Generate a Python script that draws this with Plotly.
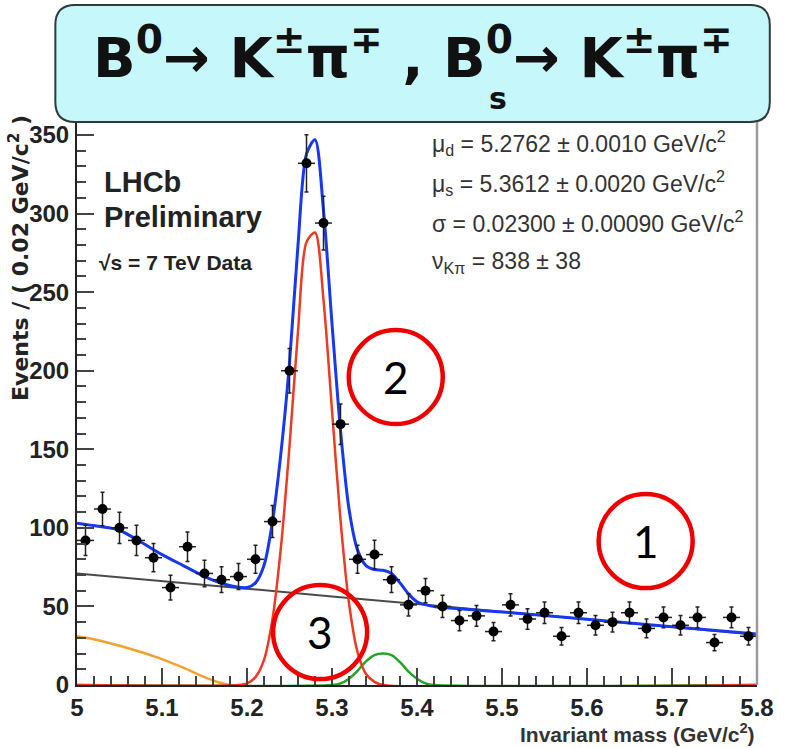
import plotly.graph_objects as go

# ---------------- data ----------------
bin_centers = [5.01, 5.03, 5.05, 5.07, 5.09, 5.11, 5.13, 5.15, 5.17, 5.19,
               5.21, 5.23, 5.25, 5.27, 5.29, 5.31, 5.33, 5.35, 5.37, 5.39,
               5.41, 5.43, 5.45, 5.47, 5.49, 5.51, 5.53, 5.55, 5.57, 5.59,
               5.61, 5.63, 5.65, 5.67, 5.69, 5.71, 5.73, 5.75, 5.77, 5.79]
events = [92, 112, 100, 92, 81, 62, 88, 71, 67, 69,
          80, 104, 200, 332, 294, 166, 80, 83, 67, 51,
          60, 50, 41, 44, 34, 51, 42, 46, 31, 46,
          38, 40, 46, 36, 43, 38, 43, 27, 43, 31]
event_err = [9.6, 10.6, 10.0, 9.6, 9.0, 7.9, 9.4, 8.4, 8.2, 8.3,
             8.9, 10.2, 14.1, 18.2, 17.1, 12.9, 8.9, 9.1, 8.2, 7.1,
             7.7, 7.1, 6.4, 6.6, 5.8, 7.1, 6.5, 6.8, 5.6, 6.8,
             6.2, 6.3, 6.8, 6.0, 6.6, 6.2, 6.6, 5.2, 6.6, 5.6]
bin_half_width = 0.01

# total fit (blue)
total_x = [5.00, 5.025, 5.05, 5.075, 5.10, 5.125, 5.15, 5.175, 5.20, 5.21,
           5.22, 5.23, 5.24, 5.25, 5.26, 5.27, 5.28, 5.29, 5.30, 5.31,
           5.32, 5.33, 5.34, 5.35, 5.36, 5.37, 5.38, 5.39, 5.40, 5.42,
           5.45, 5.50, 5.60, 5.70, 5.80]
total_y = [103, 101, 98.5, 91, 83, 76, 69, 64, 62, 65,
           76, 104, 148, 205, 280, 338, 347, 302, 230, 162,
           112, 86, 76, 73.5, 73, 71, 65, 58, 53, 50,
           48.5, 46.5, 41.8, 37, 32.5]

# combinatorial background (grey)
bkg_x = [5.0, 5.2, 5.4, 5.6, 5.8]
bkg_y = [71, 61.3, 51.5, 41.8, 32]

# B0 -> K pi signal (red)
b0_x = [5.00, 5.19, 5.20, 5.21, 5.22, 5.23, 5.24, 5.25, 5.26, 5.27,
        5.28, 5.29, 5.30, 5.31, 5.32, 5.33, 5.34, 5.35, 5.36, 5.80]
b0_y = [0, 0, 1, 5, 16, 42, 88, 152, 225, 282,
        288, 245, 175, 105, 52, 21, 7, 2, 0, 0]

# Bs -> K pi signal (green)
bs_x = [5.00, 5.30, 5.31, 5.32, 5.33, 5.34, 5.35, 5.36, 5.37, 5.38,
        5.39, 5.40, 5.41, 5.42, 5.80]
bs_y = [0, 0, 1, 4, 9, 15, 19, 20, 19, 14.5,
        8.5, 4, 1, 0, 0]

# partially reconstructed background (orange)
prt_x = [5.00, 5.025, 5.05, 5.075, 5.10, 5.125, 5.15, 5.165, 5.18, 5.80]
prt_y = [31, 28.5, 25, 21, 16.5, 11, 5, 2, 0, 0]

x_tick_vals = [5.0, 5.1, 5.2, 5.3, 5.4, 5.5, 5.6, 5.7, 5.8]
x_tick_text = ["5", "5.1", "5.2", "5.3", "5.4", "5.5", "5.6", "5.7", "5.8"]
y_tick_vals = [0, 50, 100, 150, 200, 250, 300, 350]

fit_lines = [
    ("background", bkg_x, bkg_y, "#4a4a4a", 2),
    ("partial", prt_x, prt_y, "#f2a22c", 2.5),
    ("Bs", bs_x, bs_y, "#22a622", 2.5),
    ("B0", b0_x, b0_y, "#ee3a24", 2.5),
    ("total", total_x, total_y, "#1838f0", 3),
]

# ---------------- figure ----------------
fig = go.Figure()
for name, xs, ys, col, w in fit_lines:
    fig.add_trace(go.Scatter(x=xs, y=ys, mode="lines", name=name,
                             line=dict(color=col, width=w, shape="spline", smoothing=0.8),
                             hoverinfo="skip", showlegend=False))

fig.add_trace(go.Scatter(
    x=bin_centers, y=events, mode="markers", name="data",
    marker=dict(color="black", size=10),
    error_y=dict(type="data", array=event_err, color="#222", thickness=1.5, width=2),
    error_x=dict(type="constant", value=bin_half_width, color="#222", thickness=1.5, width=0),
    showlegend=False))

tick_font = dict(family="Liberation Sans, Arial, sans-serif", size=24, color="#222", weight="bold")

fig.update_xaxes(range=[5.0, 5.8], tickvals=x_tick_vals, ticktext=x_tick_text,
                 ticks="inside", ticklen=17, tickwidth=1.5, tickcolor="#444",
                 minor=dict(dtick=0.02, tick0=5.0, ticks="inside", ticklen=9, tickwidth=1.5, tickcolor="#444"),
                 showgrid=False, zeroline=False, showline=True, linecolor="#222", linewidth=2,
                 mirror=True, tickfont=tick_font)
fig.update_yaxes(range=[0, 358.3], tickvals=y_tick_vals,
                 ticks="inside", ticklen=17, tickwidth=1.5, tickcolor="#444",
                 minor=dict(dtick=10, tick0=0, ticks="inside", ticklen=9, tickwidth=1.5, tickcolor="#444"),
                 showgrid=False, zeroline=False, showline=True, linecolor="#222", linewidth=2,
                 mirror=False, tickfont=tick_font, ticklabelstandoff=1)

W, H = 786, 748
L, R, T, B = 77, 18, 122, 63
pw, ph = W - L - R, H - T - B

def px(xp):
    return (xp - L) / pw

def py(yp):
    return (H - B - yp) / ph

# title box with rounded corners
x0, x1 = px(55), px(781)
y0, y1 = 1.0, py(5)
rx, ry = 20 / pw, 20 / ph
path = (f"M {x0+rx},{y0} L {x1-rx},{y0} Q {x1},{y0} {x1},{y0+ry} "
        f"L {x1},{y1-ry} Q {x1},{y1} {x1-rx},{y1} L {x0+rx},{y1} "
        f"Q {x0},{y1} {x0},{y1-ry} L {x0},{y0+ry} Q {x0},{y0} {x0+rx},{y0} Z")
shapes = [
    dict(type="path", xref="paper", yref="paper", path=path,
         fillcolor="#c6f8fb", line=dict(color="#2e3b3b", width=2), layer="above"),
    dict(type="line", xref="paper", yref="paper", x0=1, x1=1, y0=0, y1=1,
         line=dict(color="#9a9a9a", width=2.5)),
]

# red circles with numbers
circles = [("2", 5.375, 196), ("1", 5.669, 91.6), ("3", 5.286, 33.7)]
for label, cx, cy in circles:
    shapes.append(dict(type="circle", xref="x", yref="y", xsizemode="pixel", ysizemode="pixel",
                       xanchor=cx, yanchor=cy, x0=-47, x1=47, y0=-47, y1=47,
                       line=dict(color="#ee0000", width=4.5), layer="above"))

annotations = []
for label, cx, cy in circles:
    annotations.append(dict(x=cx, y=cy, xref="x", yref="y", text=label, showarrow=False,
                            xanchor="center", yanchor="middle",
                            font=dict(family="Lato, Open Sans, sans-serif", size=44, color="black")))

title_font = dict(family="DejaVu Sans, sans-serif", size=56, color="#111", weight="bold")
annotations.append(dict(
    x=px(418), y=py(54), xref="paper", yref="paper", showarrow=False,
    xanchor="center", yanchor="middle",
    text="B<sup>0</sup>→ K<sup>±</sup>π<sup>∓</sup> , B<sup>0</sup>→ K<sup>±</sup>π<sup>∓</sup>",
    font=title_font))

lhcb_font = dict(family="Liberation Sans, Arial, sans-serif", color="#222", weight="bold")
annotations += [
    dict(x=px(102), y=py(182), xref="paper", yref="paper", xanchor="left", yanchor="middle",
         showarrow=False, text="LHCb", font=dict(size=29, **lhcb_font)),
    dict(x=px(102), y=py(217), xref="paper", yref="paper", xanchor="left", yanchor="middle",
         showarrow=False, text="Preliminary", font=dict(size=29, **lhcb_font)),
    dict(x=px(97), y=py(262), xref="paper", yref="paper", xanchor="left", yanchor="middle",
         showarrow=False, text="√s = 7 TeV Data", font=dict(size=21, **lhcb_font)),
]

par_font = dict(family="Liberation Sans, Arial, sans-serif", size=23, color="#333")
par_lines = [
    ("μ<sub>d</sub> = 5.2762 ± 0.0010 GeV/c<sup>2</sup>", 143),
    ("μ<sub>s</sub> = 5.3612 ± 0.0020 GeV/c<sup>2</sup>", 183),
    ("σ = 0.02300 ± 0.00090 GeV/c<sup>2</sup>", 222),
    ("ν<sub>Kπ</sub> = 838 ± 38", 262),
]
for txt, yy in par_lines:
    annotations.append(dict(x=px(436), y=py(yy), xref="paper", yref="paper", xanchor="left",
                            yanchor="middle", showarrow=False, text=txt, font=par_font))

annotations.append(dict(
    x=px(18), y=py(258), xref="paper", yref="paper", textangle=-90, showarrow=False,
    xanchor="center", yanchor="middle",
    text="Events / ( 0.02 GeV/c<sup>2</sup> )",
    font=dict(family="DejaVu Sans, sans-serif", size=22, color="#222", weight="bold")))
annotations.append(dict(
    x=px(768), y=py(733), xref="paper", yref="paper", xanchor="right", yanchor="middle",
    showarrow=False, text="Invariant mass (GeV/c<sup>2</sup>)",
    font=dict(family="Liberation Sans, Arial, sans-serif", size=21, color="#333", weight="bold")))

# subscript "s" under the second B0 superscript
annotations.append(dict(x=px(505), y=py(99), xref="paper", yref="paper", showarrow=False,
                        xanchor="center", yanchor="middle", text="s",
                        font=dict(family="DejaVu Sans, sans-serif", size=30, color="#111", weight="bold")))

fig.update_layout(width=W, height=H, margin=dict(l=L, r=R, t=T, b=B),
                  plot_bgcolor="white", paper_bgcolor="white",
                  shapes=shapes, annotations=annotations, showlegend=False)

fig.write_html("out.html")
